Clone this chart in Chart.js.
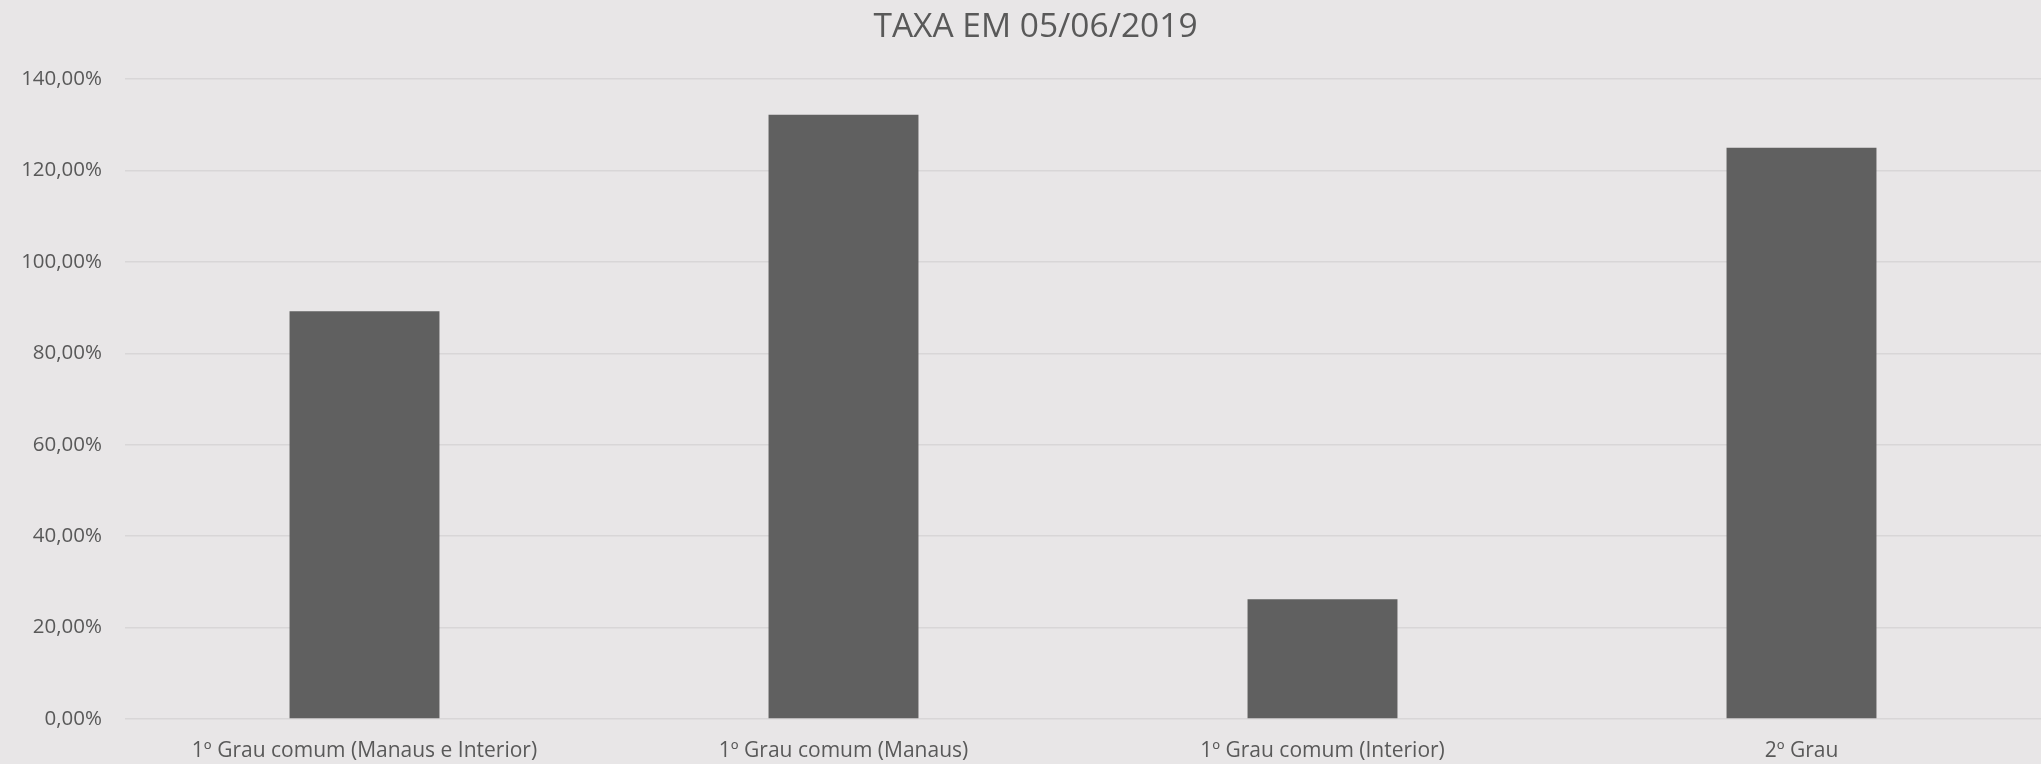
<!DOCTYPE html>
<html>
<head>
<meta charset="utf-8">
<script src="https://cdn.jsdelivr.net/npm/chart.js@4"></script>
<style>
html,body{margin:0;padding:0;background:#E8E6E7;overflow:hidden;}
canvas{display:block;}
</style>
</head>
<body>
<canvas id="c" width="2041" height="764"></canvas>
<script>
const categories = ["1º Grau comum (Manaus e Interior)", "1º Grau comum (Manaus)", "1º Grau comum (Interior)", "2º Grau"];
const taxa = [89.25, 132.2, 26.2, 125.0];
const yTicks = [0, 20, 40, 60, 80, 100, 120, 140];
const titleText = "TAXA EM 05/06/2019";

const textColor = "#595959";
const fontFamily = "'Open Sans', 'Liberation Sans', sans-serif";

const shiftTitle = {
  id: 'shiftTitle',
  afterLayout(chart) {
    if (chart.titleBlock) { chart.titleBlock.left += 30; }
  }
};

new Chart(document.getElementById('c'), {
  type: 'bar',
  data: {
    labels: categories,
    datasets: [{
      data: taxa,
      backgroundColor: '#606060',
      borderWidth: 0,
      barPercentage: 0.313,
      categoryPercentage: 1.0
    }]
  },
  plugins: [shiftTitle],
  options: {
    responsive: false,
    animation: false,
    layout: { padding: { left: 0, right: 0, top: 0, bottom: 0 } },
    plugins: {
      legend: { display: false },
      tooltip: { enabled: false },
      title: {
        display: true,
        text: titleText,
        color: textColor,
        font: { family: fontFamily, size: 33.5, weight: 'normal' },
        padding: { top: 7, bottom: 32 }
      }
    },
    scales: {
      x: {
        grid: { display: false, drawTicks: false },
        border: { display: false },
        ticks: {
          color: textColor,
          font: { family: fontFamily, size: 21 },
          padding: 19,
          maxRotation: 0,
          autoSkip: false
        },
        afterFit: s => { s.height = 45; }
      },
      y: {
        min: 0,
        max: yTicks[yTicks.length - 1],
        afterBuildTicks: s => { s.ticks = yTicks.map(v => ({ value: v })); },
        grid: { color: '#D8D6D7', lineWidth: 1.5, drawTicks: false },
        border: { display: false },
        ticks: {
          color: textColor,
          font: { family: fontFamily, size: 20.5 },
          padding: 23,
          callback: v => v.toFixed(2).replace('.', ',') + '%'
        },
        afterFit: s => { s.width = 125; }
      }
    }
  }
});
</script>
</body>
</html>
